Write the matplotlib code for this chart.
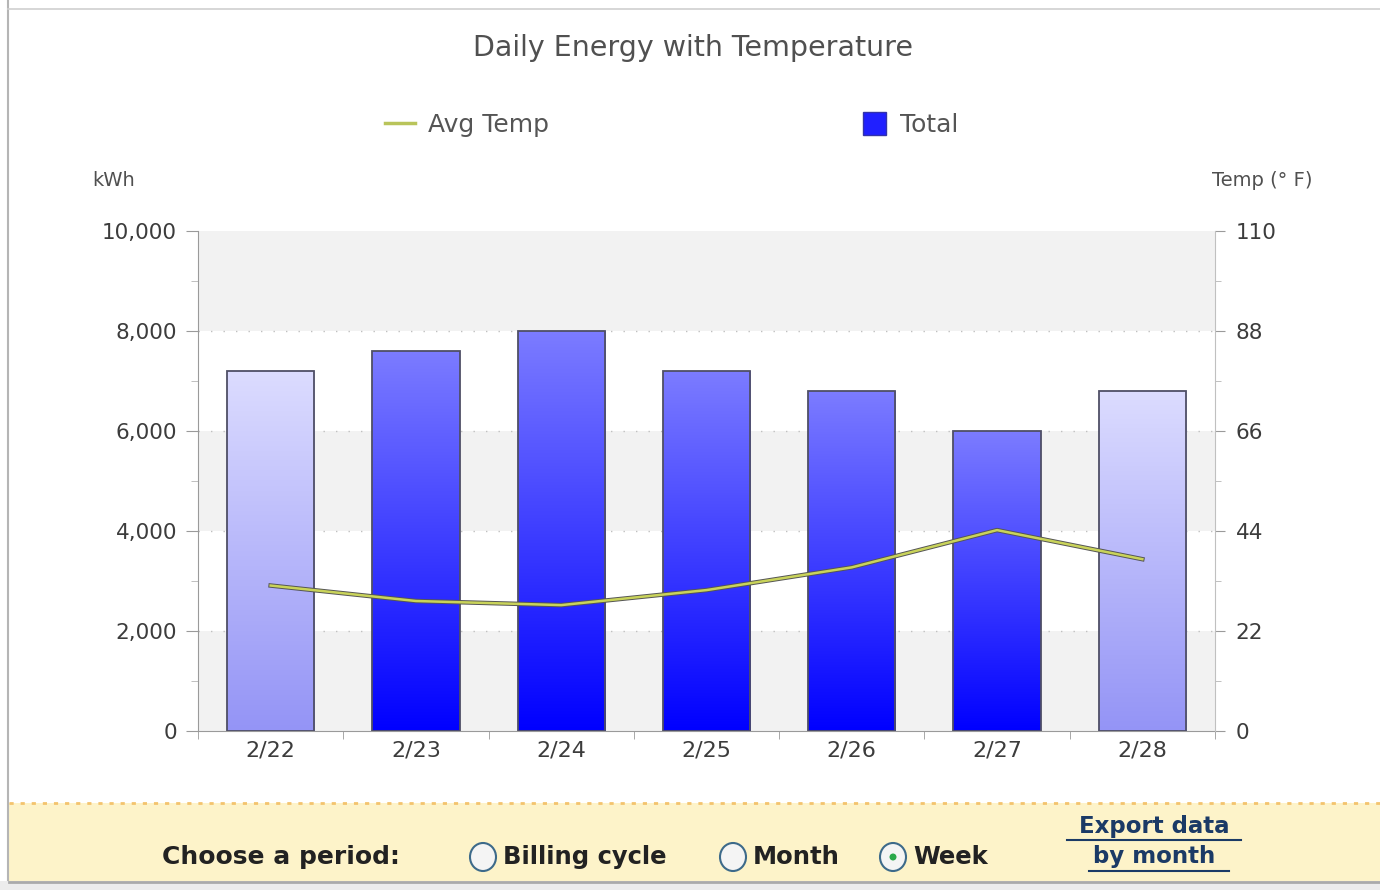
import numpy as np
import matplotlib.pyplot as plt
from matplotlib.patches import Rectangle, Ellipse
from matplotlib.lines import Line2D
from matplotlib.colors import LinearSegmentedColormap

# data
days = ['2/22', '2/23', '2/24', '2/25', '2/26', '2/27', '2/28']
total_kwh = [7200, 7600, 8000, 7200, 6800, 6000, 6800]
avg_temp = [32, 28.6, 27.7, 31, 36, 44.2, 37.8]
partial_days = [True, False, False, False, False, False, True]

W, H = 1380, 890
fig = plt.figure(figsize=(W / 100, H / 100), dpi=100)
fig.patch.set_facecolor('white')


def fx(px):
    return px / W


def fy(py):
    return 1 - py / H


# outer frame
fig.add_artist(Line2D([fx(8), fx(8)], [fy(0), fy(880)], color='#b5b5b5', lw=1.5))
fig.add_artist(Line2D([fx(8), 1], [fy(9), fy(9)], color='#d0d0d0', lw=1.2))

ax = fig.add_axes([fx(198), fy(731), fx(1215) - fx(198), (731 - 231) / H])
ax.set_facecolor('white')

# alternating bands and dotted grid
for lo in [0, 4000, 8000]:
    ax.axhspan(lo, lo + 2000, color='#f2f2f2', zorder=0, lw=0)
for g in [2000, 4000, 6000, 8000]:
    ax.axhline(g, color='#c0c0c0', lw=1, ls=(0, (1, 8)), zorder=0.5)

# bars with vertical gradient
dark_cmap = LinearSegmentedColormap.from_list('dark', ['#0000ff', '#7c7cff'])
light_cmap = LinearSegmentedColormap.from_list('light', ['#9494f6', '#dcdcff'])
grad = np.linspace(0, 1, 256).reshape(-1, 1)
bars = ax.bar(range(len(days)), total_kwh, width=0.6, color='none',
              edgecolor='#4f4f66', lw=1.3, zorder=3)
for b, partial in zip(bars, partial_days):
    x0, y0 = b.get_x(), b.get_y()
    img = ax.imshow(grad, origin='lower', aspect='auto',
                    cmap=light_cmap if partial else dark_cmap,
                    extent=[x0, x0 + b.get_width(), y0, y0 + b.get_height()],
                    zorder=2)
    img.set_clip_path(b)
ax.set_xlim(-0.5, len(days) - 0.5)
ax.set_ylim(0, 10000)

# axes styling
for s in ['top', 'right']:
    ax.spines[s].set_visible(False)
ax.spines['left'].set_color('#9a9a9a')
ax.spines['bottom'].set_color('#9a9a9a')
ax.set_yticks(range(0, 10001, 2000))
ax.set_yticklabels([f'{v:,}' for v in range(0, 10001, 2000)])
ax.set_yticks(range(1000, 10000, 2000), minor=True)
ax.tick_params(axis='y', which='major', length=9, color='#9a9a9a',
               labelsize=15.5, labelcolor='#3c3c3c', pad=6)
ax.tick_params(axis='y', which='minor', length=5, color='#b5b5b5')
ax.set_xticks(range(len(days)))
ax.set_xticklabels(days)
ax.set_xticks(np.arange(-0.5, len(days), 1), minor=True)
ax.tick_params(axis='x', which='major', length=0, labelsize=16,
               labelcolor='#3c3c3c', pad=7)
ax.tick_params(axis='x', which='minor', length=6, color='#9a9a9a')

ax2 = ax.twinx()
ax2.set_ylim(0, 110)
ax2.set_xlim(-0.5, len(days) - 0.5)
for s in ['top', 'left', 'bottom']:
    ax2.spines[s].set_visible(False)
ax2.spines['right'].set_color('#c0c0c0')
ax2.set_yticks([0, 22, 44, 66, 88, 110])
ax2.set_yticks([11, 33, 55, 77, 99], minor=True)
ax2.tick_params(axis='y', which='major', length=7, color='#9a9a9a',
                labelsize=15.5, labelcolor='#3c3c3c', pad=8)
ax2.tick_params(axis='y', which='minor', length=4, color='#b5b5b5')
ax2.plot(range(len(days)), avg_temp, color='#555555', lw=3.2, zorder=4)
ax2.plot(range(len(days)), avg_temp, color='#c9d35a', lw=1.8, zorder=5)

# titles and axis captions
fig.text(fx(693), fy(48), 'Daily Energy with Temperature', ha='center',
         va='center', fontsize=20.5, color='#505050')
fig.text(fx(92), fy(180), 'kWh', ha='left', va='center', fontsize=14, color='#505050')
fig.text(fx(1313), fy(180), 'Temp (° F)', ha='right', va='center', fontsize=14,
         color='#505050')

# legend
fig.add_artist(Line2D([fx(385), fx(415)], [fy(123), fy(123)], color='#b9c45a', lw=2.5))
fig.text(fx(428), fy(125), 'Avg Temp', ha='left', va='center', fontsize=18, color='#555555')
fig.add_artist(Rectangle((fx(863), fy(135)), fx(23), 23 / H, transform=fig.transFigure,
                         facecolor='#2020ff', edgecolor='#3333aa', lw=1))
fig.text(fx(900), fy(125), 'Total', ha='left', va='center', fontsize=18, color='#555555')

# period chooser panel
fig.add_artist(Rectangle((fx(9), fy(881)), 1, (881 - 803) / H, transform=fig.transFigure,
                         facecolor='#fdf3c9', edgecolor='none'))
fig.add_artist(Line2D([fx(9), 1], [fy(803), fy(803)], color='#f3c36e', lw=2,
                      ls=(0, (1.5, 2.5))))
fig.add_artist(Rectangle((0, 0), 1, 9 / H, transform=fig.transFigure,
                         facecolor='#ececec', edgecolor='none'))
fig.add_artist(Line2D([fx(9), 1], [fy(882), fy(882)], color='#aaaaaa', lw=2))

fig.text(fx(162), fy(857), 'Choose a period:', ha='left', va='center', fontsize=18,
         fontweight='bold', color='#222222')
for cx, label, checked in [(483, 'Billing cycle', False), (733, 'Month', False),
                           (893, 'Week', True)]:
    fig.add_artist(Ellipse((fx(cx), fy(857)), fx(26), 28 / H, transform=fig.transFigure,
                           facecolor='#f4f4f4', edgecolor='#3d6a8a', lw=1.5))
    if checked:
        fig.add_artist(Ellipse((fx(cx), fy(857)), fx(7), 7 / H, transform=fig.transFigure,
                               facecolor='#2aa84a', edgecolor='none'))
    fig.text(fx(cx + 20), fy(857), label, ha='left', va='center', fontsize=17.5,
             fontweight='bold', color='#222222')

for ty, txt in [(826, 'Export data'), (857, 'by month')]:
    fig.text(fx(1154), fy(ty), txt, ha='center', va='center', fontsize=16.5,
             fontweight='bold', color='#1b3a66')
fig.add_artist(Line2D([fx(1067), fx(1241)], [fy(840), fy(840)], color='#1b3a66', lw=1.5))
fig.add_artist(Line2D([fx(1089), fx(1229)], [fy(871), fy(871)], color='#1b3a66', lw=1.5))

fig.savefig('out.png', dpi=100)
